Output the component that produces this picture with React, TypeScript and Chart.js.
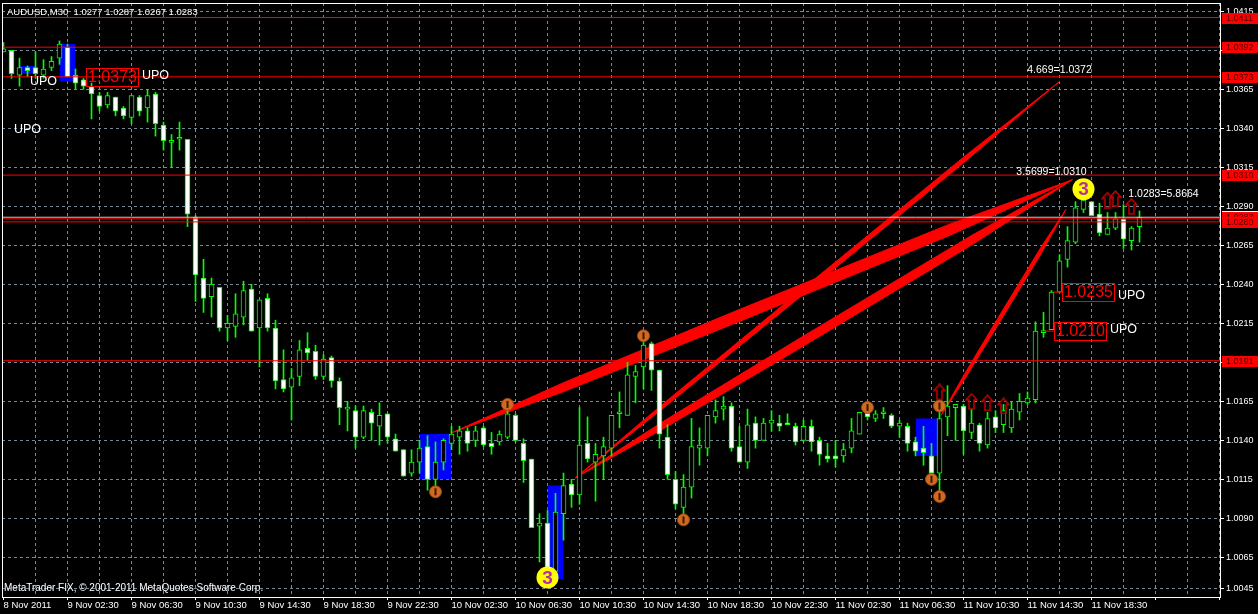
import React, { useEffect, useRef } from 'react';
import { Chart, registerables } from 'chart.js';

Chart.register(...registerables);

// ---------------- data ----------------
const SYMBOL = 'AUDUSD,M30';

const OPEN = [
  1.0389, 1.0390, 1.0374, 1.0379, 1.0379, 1.0374, 1.0379, 1.0385, 1.0392, 1.0374,
  1.0371, 1.0367, 1.0361, 1.0355, 1.0360, 1.0353, 1.0347, 1.0360, 1.0353, 1.0362,
  1.0342, 1.0331, 1.0333, 1.0333, 1.0283, 1.0244, 1.0232, 1.0238, 1.0212, 1.0213,
  1.0219, 1.0237, 1.0212, 1.0231, 1.0212, 1.0179, 1.0174, 1.0181, 1.0199, 1.0197,
  1.0181, 1.0193, 1.0178, 1.0160, 1.0159, 1.0142, 1.0158, 1.0149, 1.0157, 1.0141,
  1.0134, 1.0119, 1.0126, 1.0136, 1.0115, 1.0126, 1.0138, 1.0142, 1.0146, 1.0140,
  1.0148, 1.0138, 1.0139, 1.0142, 1.0156, 1.0138, 1.0128, 1.0085, 1.0087, 1.0056,
  1.0093, 1.0112, 1.0105, 1.0138, 1.0126, 1.0130, 1.0135, 1.0157, 1.0156, 1.0181,
  1.0187, 1.0202, 1.0185, 1.0142, 1.0115, 1.0097, 1.0110, 1.0135, 1.0135, 1.0155,
  1.0160, 1.0162, 1.0136, 1.0126, 1.0151, 1.0140, 1.0151, 1.0151, 1.0151, 1.0149,
  1.0140, 1.0149, 1.0140, 1.0130, 1.0130, 1.0130, 1.0135, 1.0144, 1.0158, 1.0154,
  1.0157, 1.0156, 1.0149, 1.0149, 1.0139, 1.0135, 1.0130, 1.0119, 1.0155, 1.0161,
  1.0162, 1.0145, 1.0150, 1.0137, 1.0155, 1.0150, 1.0148, 1.0158, 1.0164, 1.0166,
  1.0209, 1.0211, 1.0235, 1.0256, 1.0267, 1.0288, 1.0293, 1.0285, 1.0272, 1.0276,
  1.0282, 1.0268, 1.0277,
];
const HIGH = [
  1.0395, 1.0390, 1.0385, 1.0380, 1.0389, 1.0384, 1.0386, 1.0396, 1.0394, 1.0378,
  1.0372, 1.0369, 1.0363, 1.0363, 1.0360, 1.0354, 1.0361, 1.0361, 1.0365, 1.0363,
  1.0344, 1.0336, 1.0344, 1.0333, 1.0284, 1.0256, 1.0244, 1.0238, 1.0220, 1.0234,
  1.0242, 1.0240, 1.0230, 1.0234, 1.0217, 1.0198, 1.0186, 1.0204, 1.0209, 1.0201,
  1.0195, 1.0194, 1.0180, 1.0165, 1.0162, 1.0162, 1.0160, 1.0164, 1.0157, 1.0144,
  1.0134, 1.0134, 1.0140, 1.0143, 1.0139, 1.0141, 1.0149, 1.0149, 1.0148, 1.0149,
  1.0149, 1.0145, 1.0146, 1.0163, 1.0157, 1.0141, 1.0128, 1.0093, 1.0095, 1.0106,
  1.0119, 1.0115, 1.0161, 1.0155, 1.0138, 1.0142, 1.0156, 1.0171, 1.0190, 1.0188,
  1.0204, 1.0203, 1.0185, 1.0150, 1.0120, 1.0118, 1.0154, 1.0148, 1.0156, 1.0166,
  1.0168, 1.0164, 1.0149, 1.0160, 1.0155, 1.0154, 1.0159, 1.0156, 1.0157, 1.0151,
  1.0153, 1.0153, 1.0142, 1.0138, 1.0140, 1.0138, 1.0154, 1.0158, 1.0159, 1.0159,
  1.0161, 1.0157, 1.0153, 1.0151, 1.0142, 1.0149, 1.0138, 1.0165, 1.0175, 1.0163,
  1.0163, 1.0160, 1.0151, 1.0158, 1.0159, 1.0163, 1.0165, 1.0170, 1.0171, 1.0216,
  1.0222, 1.0236, 1.0259, 1.0277, 1.0293, 1.0295, 1.0293, 1.0292, 1.0286, 1.0286,
  1.0291, 1.0277, 1.0287,
];
const LOW = [
  1.0389, 1.0372, 1.0367, 1.0373, 1.0372, 1.0372, 1.0377, 1.0381, 1.0373, 1.0365,
  1.0365, 1.0346, 1.0351, 1.0353, 1.0348, 1.0346, 1.0343, 1.0348, 1.0344, 1.0335,
  1.0326, 1.0315, 1.0326, 1.0277, 1.0229, 1.0222, 1.0219, 1.0210, 1.0204, 1.0206,
  1.0214, 1.0210, 1.0187, 1.0210, 1.0173, 1.0171, 1.0153, 1.0175, 1.0191, 1.0179,
  1.0179, 1.0174, 1.0150, 1.0146, 1.0135, 1.0141, 1.0140, 1.0137, 1.0138, 1.0133,
  1.0117, 1.0117, 1.0119, 1.0108, 1.0106, 1.0121, 1.0134, 1.0131, 1.0133, 1.0136,
  1.0136, 1.0131, 1.0137, 1.0141, 1.0139, 1.0113, 1.0084, 1.0062, 1.0052, 1.0055,
  1.0076, 1.0097, 1.0099, 1.0126, 1.0101, 1.0115, 1.0130, 1.0148, 1.0156, 1.0164,
  1.0173, 1.0172, 1.0135, 1.0115, 1.0096, 1.0087, 1.0103, 1.0124, 1.0130, 1.0151,
  1.0153, 1.0133, 1.0126, 1.0122, 1.0135, 1.0140, 1.0146, 1.0146, 1.0150, 1.0137,
  1.0139, 1.0133, 1.0124, 1.0126, 1.0123, 1.0126, 1.0132, 1.0144, 1.0153, 1.0152,
  1.0154, 1.0148, 1.0142, 1.0133, 1.0130, 1.0124, 1.0117, 1.0106, 1.0143, 1.0140,
  1.0131, 1.0141, 1.0133, 1.0135, 1.0145, 1.0145, 1.0145, 1.0153, 1.0163, 1.0164,
  1.0206, 1.0211, 1.0235, 1.0251, 1.0266, 1.0286, 1.0284, 1.0271, 1.0272, 1.0275,
  1.0263, 1.0262, 1.0267,
];
const CLOSE = [
  1.0391, 1.0375, 1.0379, 1.0377, 1.0375, 1.0378, 1.0383, 1.0394, 1.0373, 1.0369,
  1.0367, 1.0362, 1.0354, 1.0361, 1.0351, 1.0348, 1.0361, 1.0351, 1.0361, 1.0343,
  1.0332, 1.0331, 1.0333, 1.0285, 1.0246, 1.0231, 1.0240, 1.0212, 1.0215, 1.0221,
  1.0236, 1.0210, 1.0230, 1.0212, 1.0178, 1.0173, 1.0180, 1.0198, 1.0196, 1.0181,
  1.0192, 1.0178, 1.0161, 1.0160, 1.0142, 1.0159, 1.0151, 1.0156, 1.0142, 1.0133,
  1.0117, 1.0126, 1.0135, 1.0115, 1.0126, 1.0140, 1.0144, 1.0146, 1.0138, 1.0146,
  1.0137, 1.0136, 1.0144, 1.0157, 1.0140, 1.0127, 1.0084, 1.0087, 1.0057, 1.0094,
  1.0111, 1.0105, 1.0137, 1.0128, 1.0131, 1.0136, 1.0156, 1.0158, 1.0182, 1.0184,
  1.0201, 1.0185, 1.0144, 1.0118, 1.0099, 1.0110, 1.0136, 1.0137, 1.0156, 1.0159,
  1.0162, 1.0135, 1.0126, 1.0150, 1.0140, 1.0151, 1.0153, 1.0149, 1.0150, 1.0139,
  1.0149, 1.0139, 1.0131, 1.0128, 1.0128, 1.0134, 1.0146, 1.0158, 1.0155, 1.0157,
  1.0158, 1.0149, 1.0151, 1.0138, 1.0133, 1.0132, 1.0119, 1.0154, 1.0162, 1.0163,
  1.0146, 1.0151, 1.0138, 1.0154, 1.0148, 1.0159, 1.0160, 1.0165, 1.0167, 1.0210,
  1.0209, 1.0235, 1.0255, 1.0268, 1.0289, 1.0294, 1.0284, 1.0273, 1.0276, 1.0282,
  1.0269, 1.0276, 1.0283,
];

// time axis labels (one every 8 bars = 4 hours)
const TIME_LABELS = [
  '8 Nov 2011', '9 Nov 02:30', '9 Nov 06:30', '9 Nov 10:30', '9 Nov 14:30', '9 Nov 18:30',
  '9 Nov 22:30', '10 Nov 02:30', '10 Nov 06:30', '10 Nov 10:30', '10 Nov 14:30', '10 Nov 18:30',
  '10 Nov 22:30', '11 Nov 02:30', '11 Nov 06:30', '11 Nov 10:30', '11 Nov 14:30', '11 Nov 18:30',
];
const PRICE_TICKS = [
  1.0415, 1.0390, 1.0365, 1.0340, 1.0315, 1.0290, 1.0265, 1.0240, 1.0215, 1.0190,
  1.0165, 1.0140, 1.0115, 1.0090, 1.0065, 1.0045,
];

// horizontal lines
const RED_LEVELS = [1.0411, 1.0392, 1.0373, 1.0310, 1.0282, 1.0280, 1.0191];
const BID_LEVEL = 1.0283;
const AXIS_TAGS = [1.0411, 1.0392, 1.0373, 1.0310, 1.0283, 1.0280, 1.0191];

// blue rectangles (bar from, bar to, top price, bottom price)
const BLUE_FROM = [7, 2, 52, 68, 114];
const BLUE_TO = [9, 4, 56, 70, 117];
const BLUE_TOP = [1.0394, 1.0380, 1.0144, 1.0111, 1.0154];
const BLUE_BOTTOM = [1.0370, 1.0375, 1.0115, 1.0051, 1.0130];

// red projection bands (start bar/price -> end bar/price)
const BAND_START_BAR = [56.1, 71.5, 71.5, 117.2];
const BAND_START_PRICE = [1.0145, 1.0116, 1.0116, 1.0156];
const BAND_END_BAR = [133.6, 133.6, 132.0, 132.8];
const BAND_END_PRICE = [1.0307, 1.0307, 1.0370, 1.0288];

// markers
const ORANGE_BAR = [54, 63, 80, 85, 108, 117, 116, 117];
const ORANGE_PRICE = [1.0107, 1.0163, 1.0207, 1.0089, 1.0161, 1.0162, 1.0115, 1.0104];
const YELLOW_BAR = [68, 135];
const YELLOW_PRICE = [1.0052, 1.0301];
const ARROW_BAR = [117, 121, 123, 125, 138, 139, 141];
const ARROW_PRICE = [1.0171, 1.0165, 1.0164, 1.0162, 1.0294, 1.0295, 1.0290];

// texts
const UPO_BAR = [5, 3, 19, 141, 140];
const UPO_PRICE = [1.0370, 1.0339, 1.0374, 1.0233, 1.0211];
const NOTE_BAR = [132, 131, 145];
const NOTE_PRICE = [1.0377, 1.0312, 1.0298];
const NOTE_TEXT = ['4.669=1.0372', '3.5699=1.0310', '1.0283=5.8664'];
const BOX_BAR = [10.31, 132.35, 131.35];
const BOX_PRICE = [1.0373, 1.0235, 1.0210];
const BOX_LINK_FROM = [null, 131.2, 130.2];
const COPYRIGHT = 'MetaTrader FIX, \u00a9 2001-2011 MetaQuotes Software Corp.';

// ---------------- layout / style ----------------
const X_MIN = -0.1875;
const X_MAX = 152.0625;
const Y_MIN = 1.003956;
const Y_MAX = 1.042032;
const PLOT_H = 594;
const PRICE_PER_PX = (Y_MAX - Y_MIN) / PLOT_H;
const BAND_THICK_PX = [12, 10, 6, 7];
const FONT = '"Liberation Sans", Arial, sans-serif';
const GREEN = '#00ff00';
const RED = '#ff0000';
const GRID = '#778899';

function makeArrow(): HTMLCanvasElement {
  const c = document.createElement('canvas');
  c.width = 13;
  c.height = 17;
  const g = c.getContext('2d')!;
  g.strokeStyle = '#c00000';
  g.lineWidth = 1.5;
  g.beginPath();
  g.moveTo(6.5, 1);
  g.lineTo(12, 7);
  g.lineTo(9, 7);
  g.lineTo(9, 16);
  g.lineTo(4, 16);
  g.lineTo(4, 7);
  g.lineTo(1, 7);
  g.closePath();
  g.stroke();
  return c;
}

const overlayPlugin: any = {
  id: 'mtOverlay',
  beforeDraw(chart: any) {
    const { ctx, width, height } = chart;
    ctx.save();
    ctx.fillStyle = '#000';
    ctx.fillRect(0, 0, width, height);
    ctx.restore();
  },
  afterDatasetsDraw(chart: any) {
    const { ctx, chartArea: a } = chart;
    const xs = chart.scales.x;
    const ys = chart.scales.y;
    ctx.save();
    ctx.beginPath();
    ctx.rect(a.left, a.top, a.right - a.left, a.bottom - a.top);
    ctx.clip();

    // "3" inside yellow circles
    ctx.textAlign = 'center';
    ctx.textBaseline = 'middle';
    ctx.font = `bold 19px ${FONT}`;
    ctx.fillStyle = '#b8309f';
    YELLOW_BAR.forEach((b, k) => {
      ctx.fillText('3', xs.getPixelForValue(b), ys.getPixelForValue(YELLOW_PRICE[k]) + 1);
    });

    // UPO labels
    ctx.font = `12.5px ${FONT}`;
    ctx.fillStyle = '#ffffff';
    UPO_BAR.forEach((b, k) => {
      ctx.fillText('UPO', xs.getPixelForValue(b), ys.getPixelForValue(UPO_PRICE[k]));
    });

    // notes
    ctx.font = `10.5px ${FONT}`;
    NOTE_BAR.forEach((b, k) => {
      ctx.fillText(NOTE_TEXT[k], xs.getPixelForValue(b), ys.getPixelForValue(NOTE_PRICE[k]));
    });

    // price boxes
    ctx.font = `16px ${FONT}`;
    ctx.textAlign = 'left';
    BOX_BAR.forEach((b, k) => {
      const px = Math.round(xs.getPixelForValue(b));
      const py = Math.round(ys.getPixelForValue(BOX_PRICE[k]));
      const t = BOX_PRICE[k].toFixed(4);
      const w = Math.ceil(ctx.measureText(t).width) + 3;
      ctx.strokeStyle = RED;
      ctx.lineWidth = 1;
      ctx.strokeRect(px + 0.5, py - 9 + 0.5, w, 18);
      ctx.fillStyle = RED;
      ctx.fillText(t, px + 2, py + 1);
    });

    // copyright
    ctx.font = `10px ${FONT}`;
    ctx.fillStyle = '#ffffff';
    ctx.fillText(COPYRIGHT, a.left + 2, a.bottom - 9);

    // title
    const n = CLOSE.length - 1;
    const title = `${SYMBOL}  ${OPEN[n].toFixed(4)} ${HIGH[n].toFixed(4)} ${LOW[n].toFixed(4)} ${CLOSE[n].toFixed(4)}`;
    ctx.font = `9.5px ${FONT}`;
    ctx.fillText(title, a.left + 5, a.top + 9);
    ctx.restore();
  },
  afterDraw(chart: any) {
    const { ctx, chartArea: a, width } = chart;
    const ys = chart.scales.y;
    ctx.save();
    // frame
    ctx.strokeStyle = '#ffffff';
    ctx.lineWidth = 1;
    ctx.strokeRect(a.left + 0.5, a.top + 0.5, a.right - a.left, a.bottom - a.top);
    // price tags on the axis
    ctx.font = `9px ${FONT}`;
    ctx.textAlign = 'left';
    ctx.textBaseline = 'middle';
    AXIS_TAGS.forEach((lvl) => {
      const py = Math.round(ys.getPixelForValue(lvl));
      const x0 = a.right + 2;
      ctx.fillStyle = RED;
      ctx.fillRect(x0, py - 5, width - x0, 11);
      if (lvl === BID_LEVEL) {
        ctx.fillStyle = '#ffffff';
        ctx.fillRect(x0, py - 6, width - x0, 1);
      }
      ctx.fillStyle = '#4a0000';
      ctx.fillText(lvl.toFixed(4), a.right + 6, py + 0.5);
    });
    ctx.restore();
  },
};

function buildConfig(): any {
  const idx = OPEN.map((_, i) => i);
  const datasets: any[] = [];

  // blue rectangles
  BLUE_FROM.forEach((f, k) => {
    datasets.push({
      type: 'line',
      data: [{ x: f, y: BLUE_TOP[k] }, { x: BLUE_TO[k], y: BLUE_TOP[k] }],
      borderWidth: 0,
      borderColor: 'rgba(0,0,0,0)',
      pointRadius: 0,
      fill: { value: BLUE_BOTTOM[k] },
      backgroundColor: '#0000ff',
      order: 20,
    });
  });

  // red bands (spindle shaped): thin at both ends, full width in the middle stretch
  BAND_START_BAR.forEach((sb, k) => {
    const eb = BAND_END_BAR[k];
    const sp = BAND_START_PRICE[k];
    const ep = BAND_END_PRICE[k];
    const half = (BAND_THICK_PX[k] / 2) * PRICE_PER_PX;
    const at = (t: number, f: number, sign: number) => ({
      x: sb + (eb - sb) * t,
      y: sp + (ep - sp) * t + sign * half * f,
    });
    const edge = (sign: number) => [
      { x: sb, y: sp },
      at(0.18, 0.75, sign),
      at(0.45, 1, sign),
      at(0.8, 0.95, sign),
      { x: eb, y: ep },
    ];
    datasets.push({
      type: 'line',
      data: edge(1),
      borderColor: RED,
      borderWidth: 1,
      pointRadius: 0,
      fill: false,
      order: 15,
    });
    datasets.push({
      type: 'line',
      data: edge(-1),
      borderColor: RED,
      borderWidth: 1,
      pointRadius: 0,
      fill: '-1',
      backgroundColor: RED,
      order: 15,
    });
  });

  // candles: wicks then bodies
  datasets.push({
    type: 'bar',
    data: idx.map((i) => ({ x: i, y: [LOW[i], HIGH[i]] })),
    backgroundColor: GREEN,
    borderWidth: 0,
    barThickness: 1,
    grouped: false,
    minBarLength: 1,
    order: 10,
  });
  datasets.push({
    type: 'bar',
    data: idx.map((i) => ({ x: i, y: [OPEN[i], CLOSE[i]] })),
    backgroundColor: idx.map((i) => (CLOSE[i] < OPEN[i] ? '#ffffff' : '#000000')),
    borderColor: GREEN,
    borderWidth: 1,
    borderSkipped: false,
    barThickness: 5,
    grouped: false,
    minBarLength: 2,
    order: 9,
  });

  // horizontal lines
  datasets.push({
    type: 'line',
    data: [{ x: X_MIN, y: BID_LEVEL }, { x: X_MAX, y: BID_LEVEL }],
    borderColor: '#c8c8c8',
    borderWidth: 1,
    pointRadius: 0,
    order: 6,
  });
  RED_LEVELS.forEach((lvl) => {
    datasets.push({
      type: 'line',
      data: [{ x: X_MIN, y: lvl }, { x: X_MAX, y: lvl }],
      borderColor: RED,
      borderWidth: 1,
      pointRadius: 0,
      order: 5,
    });
  });
  // connectors to price boxes
  BOX_LINK_FROM.forEach((from, k) => {
    if (from === null) return;
    datasets.push({
      type: 'line',
      data: [{ x: from, y: BOX_PRICE[k] }, { x: BOX_BAR[k], y: BOX_PRICE[k] }],
      borderColor: RED,
      borderWidth: 1,
      pointRadius: 0,
      order: 5,
    });
  });

  // orange markers
  datasets.push({
    type: 'line',
    showLine: false,
    data: ORANGE_BAR.map((b, k) => ({ x: b, y: ORANGE_PRICE[k] })),
    pointRadius: 6,
    pointBackgroundColor: '#d2691e',
    pointBorderColor: '#9a4a14',
    pointBorderWidth: 1,
    order: 3,
  });
  datasets.push({
    type: 'line',
    showLine: false,
    data: ORANGE_BAR.map((b, k) => ({ x: b, y: ORANGE_PRICE[k] })),
    pointStyle: 'line',
    rotation: 90,
    pointRadius: 3.5,
    pointBorderColor: '#3a1800',
    pointBorderWidth: 2,
    order: 2,
  });
  // yellow circles
  datasets.push({
    type: 'line',
    showLine: false,
    data: YELLOW_BAR.map((b, k) => ({ x: b, y: YELLOW_PRICE[k] })),
    pointRadius: 11,
    pointBackgroundColor: '#ffff00',
    pointBorderWidth: 0,
    order: 2,
  });
  // arrows
  datasets.push({
    type: 'line',
    showLine: false,
    data: ARROW_BAR.map((b, k) => ({ x: b, y: ARROW_PRICE[k] })),
    pointStyle: makeArrow(),
    order: 2,
  });

  return {
    type: 'bar',
    data: { datasets },
    plugins: [overlayPlugin],
    options: {
      responsive: false,
      animation: false,
      events: [],
      layout: { autoPadding: false, padding: { left: 2, top: 3, right: 0, bottom: 0 } },
      plugins: { legend: { display: false }, tooltip: { enabled: false } },
      font: { family: FONT },
      scales: {
        x: {
          type: 'linear',
          min: X_MIN,
          max: X_MAX,
          offset: false,
          afterBuildTicks: (s: any) => {
            const t = [];
            for (let v = 0; v <= X_MAX; v += 4) t.push({ value: v });
            s.ticks = t;
          },
          afterFit: (s: any) => {
            s.height = 17;
            s.paddingLeft = 0;
            s.paddingRight = 0;
          },
          grid: {
            offset: false,
            color: (c: any) => (c.tick && c.tick.value === 0 ? 'rgba(0,0,0,0)' : GRID),
            lineWidth: 1,
            drawTicks: true,
            tickLength: 3,
            tickColor: (c: any) => (c.tick && c.tick.value % 8 === 0 ? '#ffffff' : 'rgba(0,0,0,0)'),
          },
          border: { display: false, dash: [3, 3] },
          ticks: {
            autoSkip: false,
            maxRotation: 0,
            minRotation: 0,
            align: 'start',
            padding: 0,
            color: '#ffffff',
            font: { family: FONT, size: 9.5 },
            callback: (v: any) => (v % 8 === 0 ? TIME_LABELS[v / 8] || '' : ''),
          },
        },
        y: {
          type: 'linear',
          position: 'right',
          min: Y_MIN,
          max: Y_MAX,
          beginAtZero: false,
          afterBuildTicks: (s: any) => {
            s.ticks = PRICE_TICKS.map((v) => ({ value: v }));
          },
          afterFit: (s: any) => {
            s.width = 38;
            s.paddingTop = 0;
            s.paddingBottom = 0;
          },
          grid: {
            color: GRID,
            lineWidth: 1,
            drawTicks: true,
            tickLength: 4,
            tickColor: '#ffffff',
          },
          border: { display: false, dash: [3, 3] },
          ticks: {
            color: '#ffffff',
            padding: 2,
            font: { family: FONT, size: 9 },
            callback: (v: any) => Number(v).toFixed(4),
          },
        },
      },
    },
  };
}

export default function App() {
  const ref = useRef<HTMLCanvasElement>(null);
  useEffect(() => {
    document.body.style.margin = '0';
    document.body.style.background = '#000';
    const canvas = ref.current;
    if (!canvas) return;
    const chart = new Chart(canvas, buildConfig());
    return () => chart.destroy();
  }, []);
  return (
    <div style={{ width: 1258, height: 614, background: '#000' }}>
      <canvas ref={ref} width={1258} height={614} style={{ display: 'block', width: 1258, height: 614 }} />
    </div>
  );
}
